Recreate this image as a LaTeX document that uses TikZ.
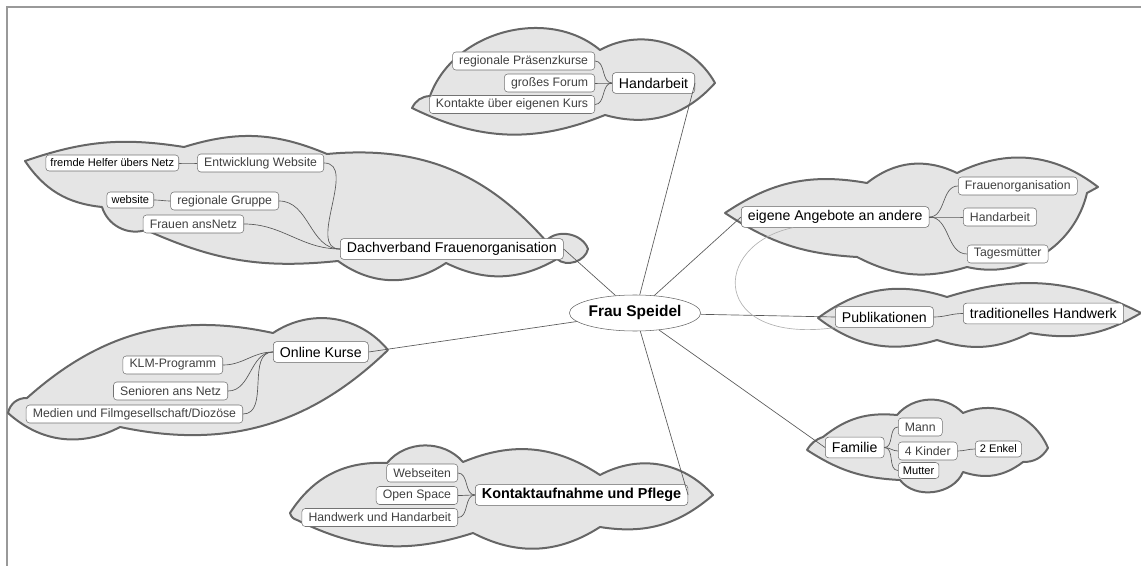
\documentclass[tikz,border=0pt]{standalone}
\usepackage{fontspec}
\setmainfont{Liberation Sans}
\usetikzlibrary{shapes.geometric}
\begin{document}
\begin{tikzpicture}[x=0.75pt,y=0.75pt,yscale=-1,xscale=1,
	cloudshape/.style={draw=black!60,fill=black!10,line width=1.5pt,line join=round},
	mainnode/.style={ellipse,draw=black!60,fill=white,minimum width=85.5pt,minimum height=27pt,inner sep=0pt,font=\fontsize{11.6}{13}\selectfont\bfseries},
	topic/.style={draw=black!60,fill=white,rounded corners=2.5pt,inner xsep=5pt,inner ysep=0pt,minimum height=15.5pt,font=\fontsize{10.6}{12}\selectfont},
	subtopic/.style={draw=black!55,fill=white,rounded corners=2.5pt,inner xsep=5pt,inner ysep=0pt,minimum height=13.5pt,text=black!75,font=\fontsize{9.2}{11}\selectfont},
	smalltopic/.style={subtopic,text=black,inner xsep=3.5pt,minimum height=12pt,font=\fontsize{8.3}{10}\selectfont},
	link/.style={draw=black!65,line width=0.5pt},
	relation/.style={draw=black!30,line width=0.5pt}]
	\useasboundingbox (0,0) rectangle (1141,566);

	%Frame
	\draw [black!40,line width=1.5pt] (7,566) -- (7,7) -- (1141,7) ;

	%Shape: Cloud [Handarbeit]
	\draw [cloudshape] (430,96) to[bend right=55] (600,50) to[bend right=45] (715,83) to[bend right=32] (605,115) to[bend right=24] (412,108) to[bend right=30] (430,96) -- cycle ;
	%Shape: Cloud [Dachverband]
	\draw [cloudshape] (25,161) to[bend right=14] (184,147) to[bend right=20] (327,154) to[bend right=27] (546,241) to[bend right=60] (588,249) to[bend right=60] (557,259) to[bend right=28] (446,263) to[bend right=35] (338,261) to[bend right=15] (146,230) to[bend right=45] (102,207) to[bend right=25] (25,161) -- cycle ;
	%Shape: Cloud [Online Kurse]
	\draw [cloudshape] (8,413) to[bend right=40] (27,398) to[bend right=27] (273,333) to[bend right=42] (388,350) to[bend right=28] (120,427) to[bend right=35] (8,413) -- cycle ;
	%Shape: Cloud [Kontaktaufnahme]
	\draw [cloudshape] (290,513) to[bend right=30] (387,463) to[bend right=50] (463,462) to[bend right=28] (600,475) to[bend right=38] (713,495) to[bend right=25] (600,527) to[bend right=30] (473,533) to[bend right=22] (297,520) to[bend right=30] (290,513) -- cycle ;
	%Shape: Cloud [eigene Angebote]
	\draw [cloudshape] (725,213) to[bend right=22] (867,183) to[bend right=32] (957,173) to[bend right=32] (1098,187) -- (1087,193) to[bend right=45] (967,267) to[bend right=22] (857,257) to[bend right=15] (725,213) -- cycle ;
	%Shape: Cloud [Publikationen]
	\draw [cloudshape] (818,318) to[bend right=27] (947,297) to[bend right=22] (1141,313) to[bend right=20] (1030,333) to[bend right=22] (937,340) to[bend right=27] (818,318) -- cycle ;
	%Shape: Cloud [Familie]
	\draw [cloudshape] (807,450) to[bend right=20] (823,437) to[bend right=22] (897,415) to[bend right=48] (963,413) to[bend right=45] (1048,448) to[bend right=30] (1023,462) to[bend right=28] (963,472) to[bend right=60] (900,480) to[bend right=15] (807,450) -- cycle ;

	% Text Node
	\node [mainnode] (speidel) at (635,313) {Frau Speidel};

	% Text Node
	\node [topic,anchor=west] (hand) at (612,83) {Handarbeit};
	\node [subtopic,anchor=east] (praesenz) at (595,61) {regionale Präsenzkurse};
	\node [subtopic,anchor=east] (forum) at (595,83) {großes Forum};
	\node [subtopic,anchor=east] (kontakte) at (595,104.5) {Kontakte über eigenen Kurs};

	% Text Node
	\node [topic,anchor=west] (dach) at (340,249) {Dachverband Frauenorganisation};
	\node [subtopic,anchor=east] (entw) at (324,163) {Entwicklung Website};
	\node [smalltopic,anchor=east] (helfer) at (179,163) {fremde Helfer übers Netz};
	\node [subtopic,anchor=east] (gruppe) at (279,201) {regionale Gruppe};
	\node [smalltopic,anchor=east] (website) at (154,200) {website};
	\node [subtopic,anchor=east] (ansnetz) at (244,224) {Frauen ansNetz};

	% Text Node
	\node [topic,anchor=west] (online) at (273,352) {Online Kurse};
	\node [subtopic,anchor=east] (klm) at (223,365) {KLM-Programm};
	\node [subtopic,anchor=east] (senioren) at (228,391) {Senioren ans Netz};
	\node [subtopic,anchor=east] (medien) at (243,414) {Medien und Filmgesellschaft/Diozöse};

	% Text Node
	\node [topic,anchor=west,font=\fontsize{10.8}{12}\selectfont\bfseries] (kontakt) at (475,495) {Kontaktaufnahme und Pflege};
	\node [subtopic,anchor=east] (webseiten) at (458,473) {Webseiten};
	\node [subtopic,anchor=east] (openspace) at (458,495.5) {Open Space};
	\node [subtopic,anchor=east] (handwerk) at (458,517.5) {Handwerk und Handarbeit};

	% Text Node
	\node [topic,anchor=west] (eigene) at (741,217) {eigene Angebote an andere};
	\node [subtopic,anchor=west] (frauenorg) at (958,186) {Frauenorganisation};
	\node [subtopic,anchor=west] (handarbeit) at (963,217) {Handarbeit};
	\node [subtopic,anchor=west] (tages) at (967,254) {Tagesmütter};

	% Text Node
	\node [topic,anchor=west] (publ) at (835,317) {Publikationen};
	\node [topic,anchor=west] (tradhw) at (963,313.5) {traditionelles Handwerk};

	% Text Node
	\node [topic,anchor=west] (familie) at (825,447.5) {Familie};
	\node [subtopic,anchor=west] (mann) at (898,427) {Mann};
	\node [subtopic,anchor=west] (kinder) at (898,451) {4 Kinder};
	\node [smalltopic,anchor=west] (mutter) at (898,470.5) {Mutter};
	\node [smalltopic,anchor=west] (enkel) at (975,449) {2 Enkel};

	%Connectors to the centre
	\draw [link] (hand.east) -- (speidel) ;
	\draw [link] (dach.east) -- (speidel) ;
	\draw [link] (online.east) -- (speidel) ;
	\draw [link] (kontakt.east) -- (speidel) ;
	\draw [link] (speidel) -- (eigene.west) ;
	\draw [link] (speidel) -- (publ.west) ;
	\draw [link] (speidel) -- (familie.west) ;

	%Connectors inside the clouds
	\foreach \kid in {praesenz,forum,kontakte}
		\draw [link] (hand.west) to [out=180,in=0] (\kid.east) ;
	\foreach \kid in {entw,gruppe,ansnetz}
		\draw [link] (dach.west) to [out=180,in=0] (\kid.east) ;
	\draw [link] (entw.west) to [out=180,in=0] (helfer.east) ;
	\draw [link] (gruppe.west) to [out=180,in=0] (website.east) ;
	\foreach \kid in {klm,senioren,medien}
		\draw [link] (online.west) to [out=180,in=0] (\kid.east) ;
	\foreach \kid in {webseiten,openspace,handwerk}
		\draw [link] (kontakt.west) to [out=180,in=0] (\kid.east) ;
	\foreach \kid in {frauenorg,handarbeit,tages}
		\draw [link] (eigene.east) to [out=0,in=180] (\kid.west) ;
	\draw [link] (publ.east) to [out=0,in=180] (tradhw.west) ;
	\foreach \kid in {mann,kinder,mutter}
		\draw [link] (familie.east) to [out=0,in=180] (\kid.west) ;
	\draw [link] (kinder.east) to [out=0,in=180] (enkel.west) ;

	%Relationship
	\draw [relation] (eigene.south) ++(-42,0) .. controls (710,245) and (710,345) .. (publ.south west) ;
\end{tikzpicture}
\end{document}
